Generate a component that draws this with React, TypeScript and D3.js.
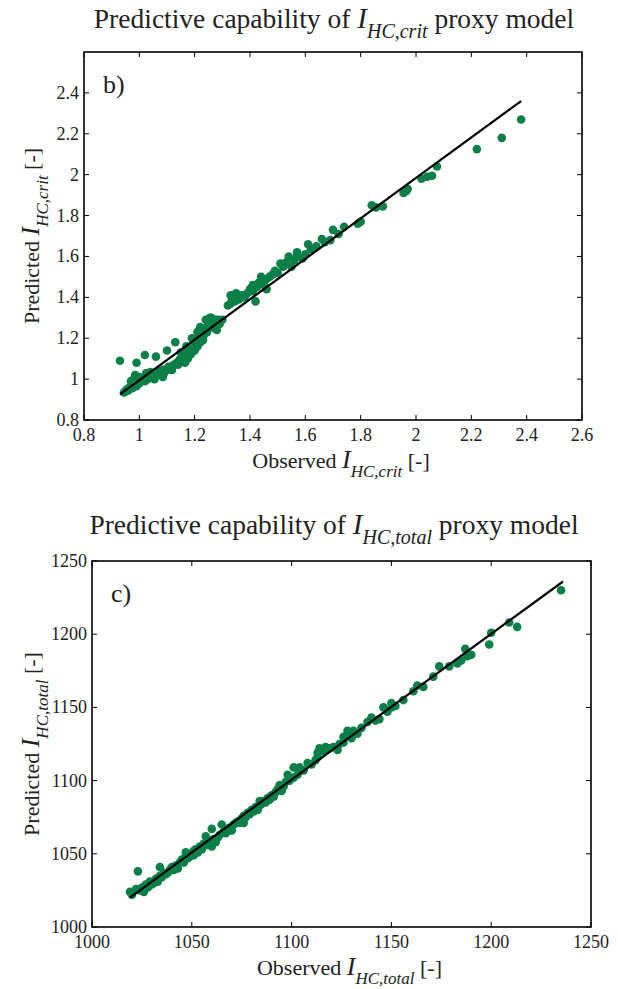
import React from "react";
import * as d3 from "d3";

// ---------- Data: panel b) I_HC,crit ----------
const critPairs: [number, number][] = [
  [0.93, 1.09], [0.945, 0.935], [0.95, 0.94], [0.955, 0.95], [0.96, 0.945], [0.965, 0.96], [0.97, 0.99],
  [0.975, 0.955], [0.98, 1.0], [0.985, 1.02], [0.99, 0.965], [0.99, 1.08], [1.0, 0.98], [1.0, 1.01],
  [1.005, 0.99], [1.01, 1.0], [1.02, 1.118], [1.02, 0.99], [1.025, 1.03], [1.03, 1.0], [1.04, 1.035],
  [1.04, 1.01], [1.05, 1.02], [1.055, 1.0], [1.06, 1.11], [1.06, 1.02], [1.07, 1.04], [1.075, 1.03],
  [1.085, 1.01], [1.085, 1.045], [1.09, 1.03], [1.1, 1.14], [1.1, 1.045], [1.105, 1.06], [1.11, 1.05],
  [1.118, 1.045], [1.12, 1.065], [1.125, 1.07], [1.13, 1.18], [1.135, 1.08], [1.14, 1.07], [1.145, 1.094],
  [1.15, 1.13], [1.15, 1.09], [1.155, 1.1], [1.16, 1.11], [1.165, 1.08], [1.17, 1.16], [1.17, 1.12],
  [1.175, 1.1], [1.18, 1.14], [1.185, 1.12], [1.19, 1.13], [1.19, 1.2], [1.195, 1.15], [1.2, 1.17],
  [1.2, 1.14], [1.205, 1.19], [1.21, 1.23], [1.21, 1.16], [1.215, 1.2], [1.22, 1.255], [1.22, 1.18],
  [1.225, 1.21], [1.23, 1.24], [1.23, 1.19], [1.235, 1.22], [1.24, 1.29], [1.24, 1.25], [1.245, 1.23],
  [1.25, 1.27], [1.255, 1.3], [1.26, 1.26], [1.26, 1.3], [1.265, 1.28], [1.27, 1.25], [1.275, 1.29],
  [1.28, 1.24], [1.285, 1.29], [1.29, 1.27], [1.3, 1.29], [1.32, 1.36], [1.33, 1.37], [1.33, 1.41],
  [1.335, 1.39], [1.34, 1.4], [1.345, 1.38], [1.35, 1.42], [1.355, 1.4], [1.36, 1.39], [1.37, 1.41],
  [1.38, 1.4], [1.39, 1.42], [1.4, 1.44], [1.41, 1.43], [1.41, 1.46], [1.42, 1.38], [1.425, 1.45],
  [1.43, 1.47], [1.44, 1.5], [1.445, 1.48], [1.45, 1.46], [1.46, 1.44], [1.46, 1.49], [1.47, 1.5],
  [1.48, 1.51], [1.49, 1.53], [1.5, 1.52], [1.51, 1.565], [1.52, 1.55], [1.53, 1.57], [1.54, 1.6],
  [1.55, 1.55], [1.56, 1.58], [1.57, 1.62], [1.57, 1.6], [1.59, 1.59], [1.6, 1.61], [1.61, 1.66],
  [1.62, 1.635], [1.64, 1.65], [1.66, 1.685], [1.67, 1.67], [1.69, 1.68], [1.7, 1.73], [1.72, 1.71],
  [1.74, 1.745], [1.79, 1.76], [1.8, 1.77], [1.84, 1.85], [1.855, 1.84], [1.88, 1.845], [1.955, 1.91],
  [1.965, 1.92], [1.97, 1.93], [2.02, 1.98], [2.04, 1.99], [2.058, 1.995], [2.076, 2.04], [2.22, 2.125],
  [2.31, 2.18], [2.38, 2.27],
];
const critObserved = critPairs.map((p) => p[0]);
const critPredicted = critPairs.map((p) => p[1]);
const critFitX = [0.93, 2.38];
const critFitY = [0.925, 2.36];
const critTicks = [0.8, 1, 1.2, 1.4, 1.6, 1.8, 2, 2.2, 2.4, 2.6];
const critYTicks = [0.8, 1, 1.2, 1.4, 1.6, 1.8, 2, 2.2, 2.4];

// ---------- Data: panel c) I_HC,total ----------
const totalPairs: [number, number][] = [
  [1019, 1024], [1020, 1022], [1022, 1026], [1023, 1038], [1024, 1025], [1025, 1027], [1026, 1024],
  [1027, 1029], [1028, 1027], [1029, 1031], [1030, 1029], [1031, 1030], [1032, 1033], [1033, 1031],
  [1034, 1041], [1034, 1035], [1035, 1034], [1036, 1037], [1037, 1036], [1038, 1037], [1039, 1039],
  [1040, 1041], [1041, 1039], [1042, 1042], [1043, 1040], [1044, 1044], [1045, 1046], [1046, 1044],
  [1047, 1049], [1047, 1051], [1048, 1047], [1049, 1048], [1050, 1050], [1051, 1052], [1051, 1049],
  [1052, 1053], [1053, 1051], [1054, 1055], [1055, 1053], [1056, 1057], [1057, 1062], [1058, 1056],
  [1059, 1059], [1060, 1067], [1060, 1055], [1061, 1060], [1062, 1058], [1063, 1061], [1064, 1063],
  [1065, 1070], [1066, 1065], [1067, 1064], [1068, 1066], [1069, 1068], [1070, 1066], [1071, 1070],
  [1072, 1071], [1073, 1072], [1074, 1071], [1075, 1074], [1076, 1071], [1076, 1076], [1077, 1075],
  [1078, 1078], [1079, 1077], [1080, 1080], [1081, 1079], [1082, 1082], [1083, 1080], [1084, 1083],
  [1084, 1086], [1085, 1084], [1086, 1086], [1087, 1085], [1088, 1088], [1089, 1087], [1090, 1090],
  [1091, 1089], [1092, 1092], [1093, 1094], [1094, 1097], [1095, 1093], [1096, 1096], [1097, 1099],
  [1098, 1104], [1099, 1100], [1101, 1109], [1101, 1102], [1103, 1104], [1104, 1109], [1106, 1107],
  [1108, 1112], [1110, 1111], [1112, 1114], [1113, 1119], [1113, 1116], [1114, 1122], [1116, 1120],
  [1117, 1123], [1119, 1122], [1121, 1123], [1123, 1121], [1124, 1125], [1126, 1130], [1126, 1126],
  [1128, 1134], [1129, 1131], [1130, 1129], [1131, 1134], [1133, 1132], [1135, 1136], [1138, 1140],
  [1140, 1143], [1142, 1141], [1144, 1142], [1146, 1150], [1148, 1147], [1150, 1153], [1150, 1150],
  [1152, 1151], [1156, 1155], [1161, 1161], [1163, 1165], [1166, 1164], [1171, 1171], [1174, 1178],
  [1179, 1178], [1183, 1180], [1185, 1182], [1187, 1190], [1188, 1185], [1190, 1186], [1199, 1193],
  [1200, 1201], [1209, 1208], [1213, 1205], [1235, 1230],
];
const totalObserved = totalPairs.map((p) => p[0]);
const totalPredicted = totalPairs.map((p) => p[1]);
const totalFitX = [1019, 1236];
const totalFitY = [1020, 1236];
const totalTicks = [1000, 1050, 1100, 1150, 1200, 1250];

const FONT = "'Liberation Serif', 'DejaVu Serif', serif";
const DOT = "#0a8048";

type PanelProps = {
  left: number; right: number; top: number; bottom: number;
  xDomain: [number, number]; yDomain: [number, number];
  xTicks: number[]; yTicks: number[];
  obs: number[]; pred: number[]; fitX: number[]; fitY: number[];
  sub: string; letter: string; titleY: number; xLabelY: number;
};

function Panel(p: PanelProps) {
  const x = d3.scaleLinear().domain(p.xDomain).range([p.left, p.right]);
  const y = d3.scaleLinear().domain(p.yDomain).range([p.bottom, p.top]);
  const fmt = (v: number) => String(+v.toFixed(2));
  const line = d3.line<number>().x((_, i) => x(p.fitX[i])).y((_, i) => y(p.fitY[i]));
  const tl = 5;
  const midX = (p.left + p.right) / 2;
  const midY = (p.top + p.bottom) / 2;
  return (
    <g fontFamily={FONT} fill="#222">
      {/* title */}
      <text x={334} y={p.titleY} fontSize={27.5} textAnchor="middle">
        Predictive capability of{" "}
        <tspan fontStyle="italic" fontSize={29}>I</tspan>
        <tspan fontStyle="italic" fontSize={20} dy={10}>{p.sub}</tspan>
        <tspan dy={-10}> proxy model</tspan>
      </text>
      {/* box */}
      <rect x={p.left} y={p.top} width={p.right - p.left} height={p.bottom - p.top} fill="none" stroke="#000" strokeWidth={1.6} />
      {/* x ticks */}
      {p.xTicks.map((t) => (
        <g key={"x" + t}>
          <line x1={x(t)} x2={x(t)} y1={p.bottom} y2={p.bottom - tl} stroke="#000" strokeWidth={1} />
          <line x1={x(t)} x2={x(t)} y1={p.top} y2={p.top + tl} stroke="#000" strokeWidth={1} />
          <text x={x(t)} y={p.bottom + 21} fontSize={18} textAnchor="middle">{fmt(t)}</text>
        </g>
      ))}
      {/* y ticks */}
      {p.yTicks.map((t) => (
        <g key={"y" + t}>
          <line x1={p.left} x2={p.left + tl} y1={y(t)} y2={y(t)} stroke="#000" strokeWidth={1} />
          <line x1={p.right} x2={p.right - tl} y1={y(t)} y2={y(t)} stroke="#000" strokeWidth={1} />
          <text x={p.left - 5} y={y(t) + 6} fontSize={18} textAnchor="end">{fmt(t)}</text>
        </g>
      ))}
      {/* points */}
      {p.obs.map((o, i) => (
        <circle key={i} cx={x(o)} cy={y(p.pred[i])} r={4.3} fill={DOT} />
      ))}
      {/* fit line */}
      <path d={line(p.fitX) || ""} stroke="#000" strokeWidth={2.2} fill="none" />
      {/* letter */}
      <text x={p.left + 19} y={p.top + 41} fontSize={26}>{p.letter}</text>
      {/* x label */}
      <text x={midX + 8} y={p.xLabelY} fontSize={22} textAnchor="middle">
        Observed{" "}
        <tspan fontStyle="italic" fontSize={26}>I</tspan>
        <tspan fontStyle="italic" fontSize={17} dy={9}>{p.sub}</tspan>
        <tspan dy={-9}> [-]</tspan>
      </text>
      {/* y label */}
      <text transform={`translate(39,${midY}) rotate(-90)`} fontSize={22} textAnchor="middle">
        Predicted{" "}
        <tspan fontStyle="italic" fontSize={26}>I</tspan>
        <tspan fontStyle="italic" fontSize={17} dy={9}>{p.sub}</tspan>
        <tspan dy={-9}> [-]</tspan>
      </text>
    </g>
  );
}

export default function App() {
  return (
    <svg width={618} height={989} style={{ position: "absolute", left: 0, top: 0, background: "#fff" }}>
      <rect width={618} height={989} fill="#fff" />
      <Panel
        left={84} right={582} top={52} bottom={420}
        xDomain={[0.8, 2.6]} yDomain={[0.8, 2.6]}
        xTicks={critTicks} yTicks={critYTicks}
        obs={critObserved} pred={critPredicted} fitX={critFitX} fitY={critFitY}
        sub="HC,crit" letter="b)" titleY={28} xLabelY={468}
      />
      <Panel
        left={92} right={591} top={561} bottom={927}
        xDomain={[1000, 1250]} yDomain={[1000, 1250]}
        xTicks={totalTicks} yTicks={totalTicks}
        obs={totalObserved} pred={totalPredicted} fitX={totalFitX} fitY={totalFitY}
        sub="HC,total" letter="c)" titleY={534} xLabelY={975}
      />
    </svg>
  );
}
